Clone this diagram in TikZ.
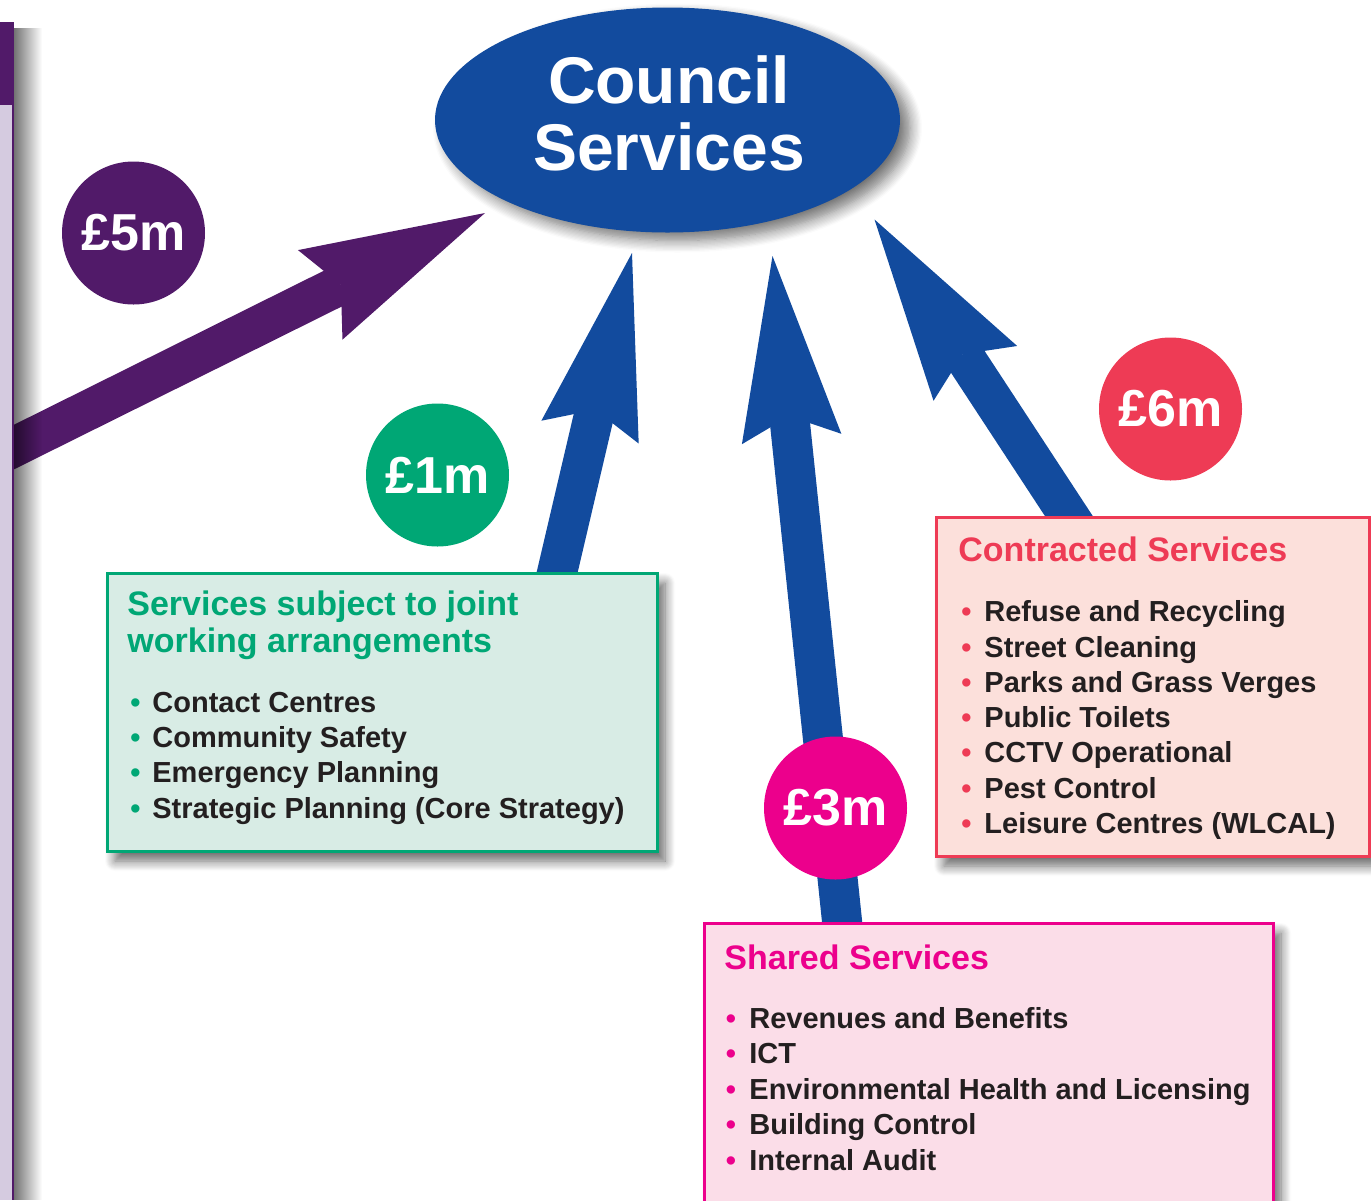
\documentclass[tikz,border=0pt]{standalone}
\usepackage{fontspec}
\setmainfont{Liberation Sans}
\usetikzlibrary{arrows.meta,shapes.geometric,shadows.blur,fadings}
\definecolor{purpleC}{HTML}{511A69}
\definecolor{blueC}{HTML}{124B9E}
\definecolor{greenC}{HTML}{00A775}
\definecolor{greenF}{HTML}{D8ECE5}
\definecolor{magC}{HTML}{EC008C}
\definecolor{magF}{HTML}{FBDDE8}
\definecolor{redC}{HTML}{EE3B55}
\definecolor{redF}{HTML}{FCE0DB}
\definecolor{lavC}{HTML}{D5CBE0}
\definecolor{inkC}{HTML}{231F20}
\tikzfading[name=faderight, left color=transparent!45, right color=transparent!100]
\begin{document}
\begin{tikzpicture}[x=0.5pt,y=-0.5pt,
  flow/.style={line width=20pt, line cap=butt,
    -{Stealth[length=92pt,width=50pt,inset=11.5pt,line width=0pt]}},
  box/.style={rectangle, line width=1.5pt, inner sep=0pt,
    blur shadow={shadow xshift=4pt, shadow yshift=-5pt, shadow blur radius=5pt, shadow opacity=60, shadow blur steps=10}},
  badge/.style={circle, minimum size=71.5pt, inner sep=0pt, text=white,
    font=\bfseries\fontsize{26}{26}\selectfont},
  ttl/.style={anchor=base west, inner sep=0pt, font=\bfseries\fontsize{17}{20}\selectfont},
  itm/.style={anchor=base west, inner sep=0pt, text=inkC, font=\bfseries\fontsize{14.5}{17}\selectfont},
  bul/.style={anchor=base west, inner sep=0pt, font=\bfseries\fontsize{14.5}{17}\selectfont},
  big/.style={anchor=base, inner sep=0pt, text=white, font=\bfseries\fontsize{33}{34}\selectfont}]
\useasboundingbox (0,0) rectangle (1371,1200);

% arrow end points
\coordinate (p5s) at (5,451.5);
\coordinate (p5t) at (485,213);
\coordinate (a1s) at (553,590);
\coordinate (a1t) at (632,253);
\coordinate (a2s) at (844,940);
\coordinate (a2t) at (772.5,256);
\coordinate (a3s) at (1078,530);
\coordinate (a3t) at (874.5,219.5);

% arrows
\draw[flow, color=purpleC] (p5s) -- (p5t);
\draw[flow, color=blueC] (a1s) -- (a1t);
\draw[flow, color=blueC] (a2s) -- (a2t);
\draw[flow, color=blueC] (a3s) -- (a3t);

% left panel
\fill[lavC] (0,22) rectangle (13,1200);
\fill[purpleC] (0,22) rectangle (14,105);
\fill[purpleC] (12,105) rectangle (14,1200);
\fill[black, path fading=faderight] (14,28) rectangle (42,1200);

% central ellipse
\node[ellipse, fill=blueC, minimum width=232.5pt, minimum height=112.5pt, inner sep=0pt,
  blur shadow={shadow xshift=5pt, shadow yshift=-4pt, shadow blur radius=6pt, shadow opacity=55, shadow blur steps=10}]
  (council) at (667.5,120) {};
\node[big] (ct1) at (669,103) {Council};
\node[big] (ct2) at (669,170) {Services};

% badges
\node[badge, fill=purpleC] (m5) at (133.5,233) {£5m};
\node[badge, fill=greenC] (m1) at (437.5,475) {£1m};
\node[badge, fill=magC] (m3) at (835.5,808) {£3m};
\node[badge, fill=redC] (m6) at (1170.5,409) {£6m};

% green box
\node[box, draw=greenC, fill=greenF, minimum width=275pt, minimum height=139pt] (gbox) at (382,712) {};
\node[ttl, text=greenC] (gt1) at (127,615) {Services subject to joint};
\node[ttl, text=greenC] (gt2) at (127,652) {working arrangements};
\foreach [count=\i] \t in {Contact Centres, Community Safety, Emergency Planning, Strategic Planning (Core Strategy)} {
  \node[bul, text=greenC] (gb\i) at (130,{712+35.4*(\i-1)}) {•};
  \node[itm] (gi\i) at (152,{712+35.4*(\i-1)}) {\t};
}

% contracted box
\node[box, draw=redC, fill=redF, minimum width=216.5pt, minimum height=169.5pt] (cbox) at (1152.5,686.5) {};
\node[ttl, text=redC] (ctt) at (958,561) {Contracted Services};
\foreach [count=\i] \t in {Refuse and Recycling, Street Cleaning, Parks and Grass Verges, Public Toilets, CCTV Operational, Pest Control, Leisure Centres (WLCAL)} {
  \node[bul, text=redC] (cb\i) at (961,{621.7+35.3*(\i-1)}) {•};
  \node[itm] (ci\i) at (984,{621.7+35.3*(\i-1)}) {\t};
}

% shared box
\node[box, draw=magC, fill=magF, minimum width=284.5pt, minimum height=146pt] (sbox) at (988.5,1069) {};
\node[ttl, text=magC] (stt) at (724,969) {Shared Services};
\foreach [count=\i] \t in {Revenues and Benefits, ICT, Environmental Health and Licensing, Building Control, Internal Audit} {
  \node[bul, text=magC] (sb\i) at (725.5,{1028+35.5*(\i-1)}) {•};
  \node[itm] (si\i) at (749,{1028+35.5*(\i-1)}) {\t};
}
\end{tikzpicture}
\end{document}
